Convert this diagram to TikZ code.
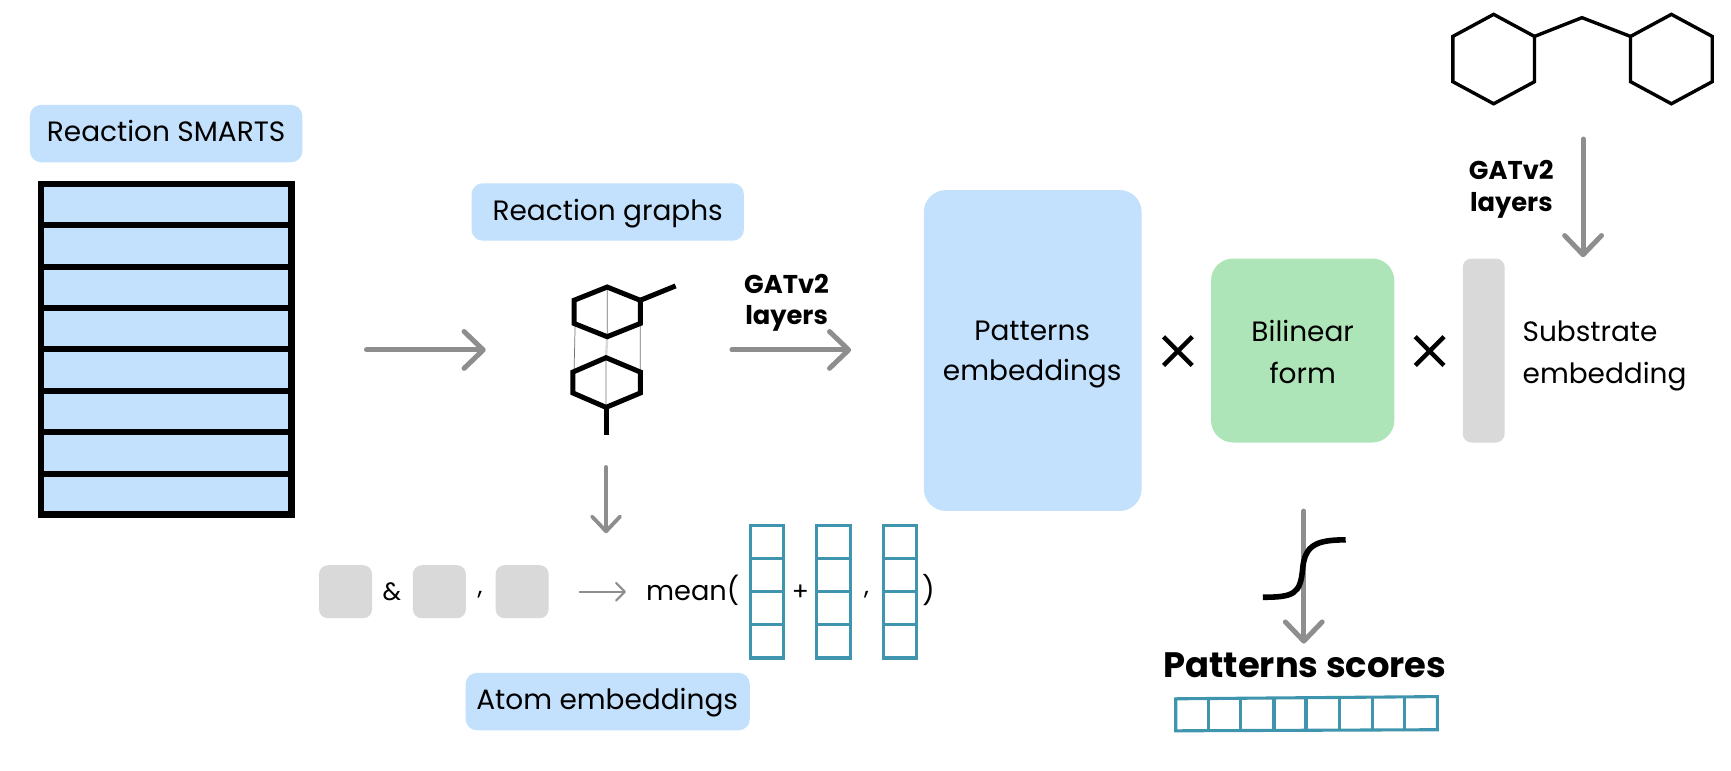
\documentclass[tikz,border=0pt]{standalone}
\usepackage{fontspec}
\setmainfont{Poppins}
\usetikzlibrary{arrows.meta}
\definecolor{lblue}{HTML}{C3E1FC}
\definecolor{lgreen}{HTML}{ADE5B8}
\definecolor{lgray}{HTML}{D9D9D9}
\definecolor{agray}{HTML}{8E8E8E}
\definecolor{teal}{HTML}{4095AE}
\tikzset{
  x=0.75pt,y=-0.75pt,
  tag/.style={fill=lblue,rounded corners=7.5pt,inner sep=0pt},
  tagtxt/.style={inner sep=0pt,font=\fontsize{19}{22}\selectfont,text height=13.5pt,text depth=3pt},
  txt/.style={inner sep=0pt,font=\fontsize{19}{22}\selectfont,text height=13.5pt,text depth=3pt},
  boldtxt/.style={inner sep=0pt,font=\fontsize{17.5}{21.3}\selectfont\bfseries,align=center},
  bigarrow/.style={draw=agray,line width=3.4pt,line cap=round,-{Straight Barb[length=13pt,width=25pt,round]}},
  midarrow/.style={draw=agray,line width=2.6pt,line cap=round,-{Straight Barb[length=10pt,width=19pt,round]}},
  thinarrow/.style={draw=agray,line width=1.4pt,line cap=round,-{Straight Barb[length=6pt,width=12pt,round]}},
  mol/.style={draw=black,line width=2.3pt,line join=miter},
  molb/.style={draw=black,line width=3.4pt,line join=miter},
  chip/.style={fill=lgray,rounded corners=6pt,inner sep=0pt,minimum width=36pt,minimum height=36pt},
  cell/.style={draw=teal,line width=2.1pt,inner sep=0pt},
  sym/.style={inner sep=0pt,font=\fontsize{17}{19}\selectfont},
  cross/.style={draw=black,line width=3pt},
}
\begin{document}
\begin{tikzpicture}
\useasboundingbox (0,0) rectangle (1568,697.5);
% left tag and table
\node[tag,minimum width=185pt,minimum height=39pt] (smarts) at (150.5,121) {};
\node[tagtxt] (smartst) at (150.5,121) {Reaction SMARTS};
\fill[lblue] (37,167) rectangle (264,466);
\draw[black,line width=4.2pt] (37,167) rectangle (264,466);
\foreach \yy in {204,242,279,316,354,391,429} \draw[black,line width=4.2pt] (37,\yy) -- (264,\yy);
\coordinate (a1s) at (332,317); \coordinate (a1e) at (440,317);
\draw[bigarrow] (a1s) -- (a1e);
% reaction graphs
\node[tag,minimum width=185pt,minimum height=39pt] (graphs) at (550.5,192) {};
\node[tagtxt] (graphst) at (550.5,193) {Reaction graphs};
\draw[black!55,line width=0.5pt] (550,260)--(550,305) (549,324)--(549,369) (521,293)--(520,337) (580,293)--(580,337);
\draw[lgray,line width=1.6pt] (550,305)--(549,324);
\draw[molb] (550,260)--(580,272)--(580,293)--(550,305)--(520,293)--(520,272)--cycle;
\draw[molb] (549,324)--(580,337)--(580,356)--(549,369)--(519,356)--(519,337)--cycle;
\draw[molb] (580,272)--(612,259);
\draw[molb] (549,369)--(549,394);
% GATv2 1
\node[boldtxt] (gat1) at (712.5,274) {GATv2\\layers};
\coordinate (a2s) at (663,317); \coordinate (a2e) at (771,317);
\draw[bigarrow] (a2s) -- (a2e);
% Patterns
\node[fill=lblue,rounded corners=15pt,inner sep=0pt,minimum width=148pt,minimum height=218pt] (pat) at (935.5,317.5) {};
\node[txt] at (935,301) {Patterns};
\node[txt] at (935,338) {embeddings};
\draw[cross] (1054,305)--(1080,331) (1080,305)--(1054,331);
\node[fill=lgreen,rounded corners=15pt,inner sep=0pt,minimum width=124.5pt,minimum height=125pt] (bil) at (1180,317.5) {};
\node[txt] at (1180,302) {Bilinear};
\node[txt] at (1180,340) {form};
\draw[cross] (1282,305)--(1308,331) (1308,305)--(1282,331);
\node[fill=lgray,rounded corners=6pt,inner sep=0pt,minimum width=28.5pt,minimum height=125pt] (sub) at (1344,317.5) {};
\node[txt,anchor=west] at (1379,302) {Substrate};
\node[txt,anchor=west] at (1379,340) {embedding};
% molecule
\draw[mol] (1353,13)--(1390,33)--(1390,74)--(1353,94)--(1316,74)--(1316,33)--cycle;
\draw[mol] (1514,13)--(1551,33)--(1551,74)--(1514,94)--(1477,74)--(1477,33)--cycle;
\draw[mol] (1390,33)--(1433,16)--(1477,33);
\node[boldtxt] (gat2) at (1369,171.5) {GATv2\\layers};
\coordinate (a3s) at (1434,126); \coordinate (a3e) at (1434,233);
\draw[bigarrow] (a3s) -- (a3e);
% down arrow and atoms
\coordinate (a4s) at (549,423); \coordinate (a4e) at (549,483);
\draw[midarrow] (a4s) -- (a4e);
\node[chip] (c1) at (313,536) {};
\node[chip] (c2) at (398,536) {};
\node[chip] (c3) at (473,536) {};
\node[sym] at (355,536) {\&};
\node[sym] at (435,539) {,};
\coordinate (a5s) at (525,536); \coordinate (a5e) at (567,536);
\draw[thinarrow] (a5s) -- (a5e);
\node[txt,anchor=west,font=\fontsize{18.5}{22}\selectfont] (mean) at (585,537) {mean(};
\foreach \xx in {680,740,800}{
  \draw[cell] (\xx,476) rectangle (\xx+30,596);
  \foreach \yy in {506,536,566} \draw[cell] (\xx,\yy)--(\xx+30,\yy);
}
\node[sym] at (725,537) {+};
\node[sym] at (785,539) {,};
\node[txt] at (841,537) {)};
\node[tag,minimum width=193pt,minimum height=39pt] (atoms) at (550.5,635.5) {};
\node[tagtxt] (atomst) at (550,636) {Atom embeddings};
% sigmoid and scores
\coordinate (a6s) at (1181,463); \coordinate (a6e) at (1181,583);
\draw[bigarrow] (a6s) -- (a6e);
\draw[black,line width=3.8pt] (1144,541) .. controls (1172,541) and (1178,538) .. (1180,515) .. controls (1182,494) and (1192,489) .. (1219,489);
\node[inner sep=0pt,font=\fontsize{24}{28}\selectfont\bfseries] (score) at (1182,603) {Patterns scores};
\draw[cell] (1065,633) -- (1302,631) -- (1302,661) -- (1065,662) -- cycle;
\foreach \xx in {1095,1124,1154,1183,1213,1243,1272} \draw[cell] (\xx,632.5)--(\xx,661.5);
\end{tikzpicture}
\end{document}
